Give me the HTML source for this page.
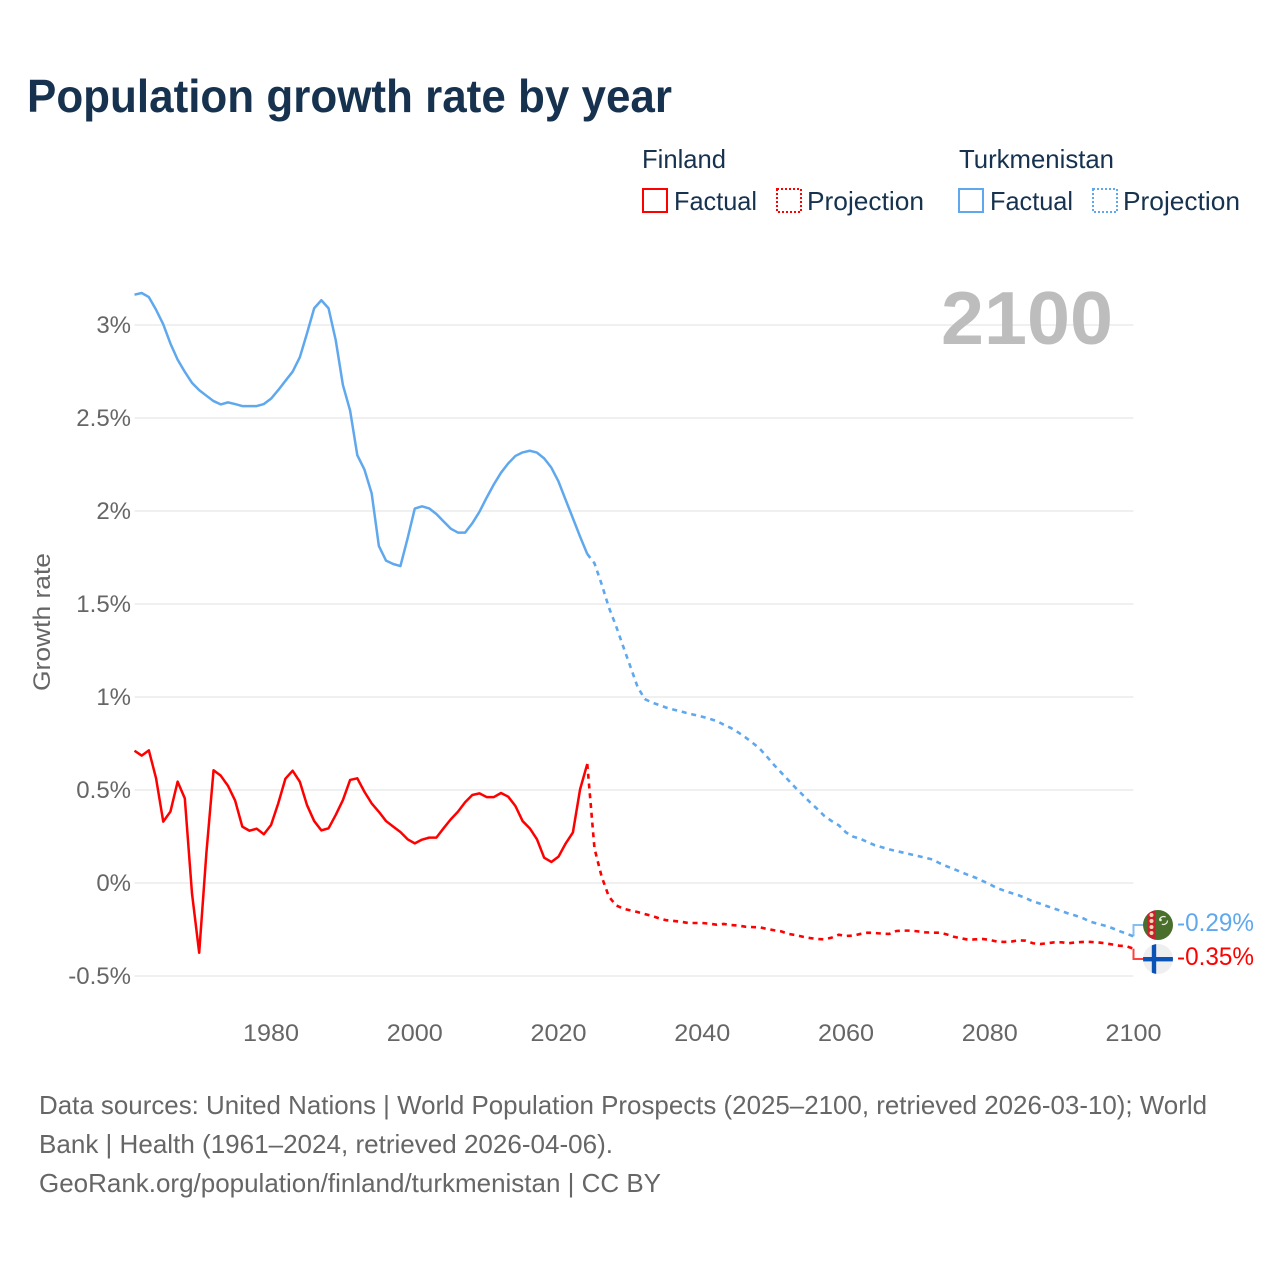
<!DOCTYPE html>
<html lang="en">
<head>
<meta charset="utf-8">
<title>Population growth rate by year</title>
<style>
html,body{margin:0;padding:0;background:#fff;}
svg{display:block;font-family:"Liberation Sans",sans-serif;}
</style>
</head>
<body>
<svg id="chart" xmlns="http://www.w3.org/2000/svg" width="1280" height="1280" viewBox="0 0 1280 1280">
  <rect width="1280" height="1280" fill="#fff"/>
  <text x="27" y="112" font-size="46" font-weight="700" fill="#16324f" textLength="645" lengthAdjust="spacingAndGlyphs">Population growth rate by year</text>

  <g font-size="26" fill="#16324f">
    <text x="642" y="168" textLength="84" lengthAdjust="spacingAndGlyphs">Finland</text>
    <text x="959" y="168" textLength="155" lengthAdjust="spacingAndGlyphs">Turkmenistan</text>
    <rect x="643" y="189" width="24" height="23" fill="none" stroke="#ff0000" stroke-width="2"/>
    <text x="674" y="210" textLength="83" lengthAdjust="spacingAndGlyphs">Factual</text>
    <rect x="777" y="189" width="24" height="23" fill="none" stroke="#ff0000" stroke-width="2" stroke-dasharray="2 2"/>
    <text x="807" y="210" textLength="117" lengthAdjust="spacingAndGlyphs">Projection</text>
    <rect x="959" y="189" width="24" height="23" fill="none" stroke="#5fa8ee" stroke-width="2"/>
    <text x="990" y="210" textLength="83" lengthAdjust="spacingAndGlyphs">Factual</text>
    <rect x="1093" y="189" width="24" height="23" fill="none" stroke="#5fa8ee" stroke-width="2" stroke-dasharray="2 2"/>
    <text x="1123" y="210" textLength="117" lengthAdjust="spacingAndGlyphs">Projection</text>
  </g>

  <g id="grid"></g>
  <g id="yticks"></g>
  <g id="xticks"></g>
  <text transform="translate(50 622) rotate(-90)" text-anchor="middle" font-size="24" fill="#666666" textLength="138" lengthAdjust="spacingAndGlyphs">Growth rate</text>
  <text id="year-label" x="1113" y="344" text-anchor="end" font-size="75" font-weight="700" fill="#bdbdbd" textLength="172" lengthAdjust="spacingAndGlyphs">2100</text>

  <g id="series"></g>

  <g>
    <clipPath id="tm-clip"><circle cx="1158" cy="925" r="15"/></clipPath>
    <g clip-path="url(#tm-clip)">
      <rect x="1143" y="910" width="30" height="30" fill="#4a6f2d"/>
      <rect x="1147.5" y="910" width="8" height="30" fill="#c8202f"/>
      <circle cx="1151.5" cy="915" r="2" fill="#f3d9b0"/>
      <circle cx="1151.5" cy="921" r="2" fill="#f3d9b0"/>
      <circle cx="1151.5" cy="927" r="2" fill="#f3d9b0"/>
      <circle cx="1151.5" cy="933" r="2" fill="#f3d9b0"/>
      <circle cx="1163.5" cy="920.5" r="4" fill="none" stroke="#e8efe0" stroke-width="1.2" stroke-dasharray="8 5"/>
      <circle cx="1160.5" cy="920" r="1.3" fill="#e8efe0"/>
    </g>
  </g>
  <g>
    <clipPath id="fi-clip"><circle cx="1158" cy="959" r="15"/></clipPath>
    <g clip-path="url(#fi-clip)">
      <rect x="1143" y="944" width="30" height="30" fill="#efefef"/>
      <rect x="1143" y="957" width="30" height="4.4" fill="#0b53b5"/>
      <rect x="1151.8" y="944" width="4.4" height="30" fill="#0b53b5"/>
    </g>
  </g>
  <g id="endlabels"></g>

  <g font-size="26" fill="#666666">
    <text x="39" y="1114" textLength="1168" lengthAdjust="spacingAndGlyphs">Data sources: United Nations | World Population Prospects (2025–2100, retrieved 2026-03-10); World</text>
    <text x="39" y="1153" textLength="574" lengthAdjust="spacingAndGlyphs">Bank | Health (1961–2024, retrieved 2026-04-06).</text>
    <text x="39" y="1192" textLength="622" lengthAdjust="spacingAndGlyphs">GeoRank.org/population/finland/turkmenistan | CC BY</text>
  </g>
</svg>
<script>
const firstFactualYear = 1961;
const firstProjectionYear = 2025;
const lastYear = 2100;
const yTicks = [3, 2.5, 2, 1.5, 1, 0.5, 0, -0.5];
const yTickLabels = ['3%', '2.5%', '2%', '1.5%', '1%', '0.5%', '0%', '-0.5%'];
const xTicks = [1980, 2000, 2020, 2040, 2060, 2080, 2100];
const endLabelFinland = '-0.35%';
const endLabelTurkmenistan = '-0.29%';

const finlandFactual = [
  0.711,0.685,0.713,0.563,0.33,0.384,0.545,0.455,-0.056,-0.375,
  0.16,0.606,0.577,0.523,0.443,0.303,0.281,0.292,0.262,0.312,
  0.428,0.561,0.604,0.545,0.419,0.333,0.283,0.294,0.366,0.446,
  0.554,0.563,0.49,0.428,0.383,0.333,0.303,0.274,0.235,0.213,
  0.233,0.244,0.244,0.294,0.342,0.383,0.434,0.473,0.482,0.462,
  0.462,0.484,0.464,0.414,0.333,0.294,0.235,0.136,0.113,0.142,
  0.213,0.272,0.504,0.64
];
const finlandProjection = [
  0.186,0.034,-0.073,-0.12,-0.138,-0.147,-0.156,-0.167,-0.177,-0.19,
  -0.2,-0.204,-0.208,-0.215,-0.215,-0.215,-0.219,-0.224,-0.22,-0.226,
  -0.229,-0.235,-0.237,-0.238,-0.247,-0.254,-0.26,-0.274,-0.28,-0.289,
  -0.296,-0.301,-0.303,-0.294,-0.278,-0.285,-0.283,-0.274,-0.267,-0.269,
  -0.272,-0.274,-0.258,-0.256,-0.256,-0.26,-0.265,-0.267,-0.267,-0.276,
  -0.289,-0.297,-0.305,-0.303,-0.301,-0.306,-0.315,-0.317,-0.315,-0.308,
  -0.31,-0.324,-0.328,-0.324,-0.319,-0.319,-0.324,-0.319,-0.317,-0.317,
  -0.319,-0.324,-0.33,-0.337,-0.34,-0.353
];
const turkmenistanFactual = [
  3.163,3.172,3.15,3.082,3.004,2.9,2.814,2.748,2.689,2.65,
  2.62,2.591,2.573,2.584,2.575,2.564,2.564,2.564,2.575,2.604,
  2.65,2.7,2.749,2.826,2.955,3.09,3.133,3.09,2.918,2.677,
  2.54,2.3,2.222,2.095,1.812,1.733,1.715,1.704,1.853,2.013,
  2.025,2.014,1.984,1.944,1.905,1.884,1.884,1.934,1.996,2.072,
  2.143,2.206,2.256,2.296,2.315,2.324,2.314,2.283,2.233,2.158,
  2.059,1.961,1.862,1.769
];
const turkmenistanProjection = [
  1.719,1.606,1.482,1.382,1.271,1.163,1.054,0.989,0.97,0.957,
  0.943,0.932,0.923,0.912,0.903,0.894,0.883,0.871,0.851,0.833,
  0.81,0.783,0.754,0.722,0.679,0.634,0.593,0.552,0.511,0.473,
  0.434,0.398,0.36,0.333,0.31,0.272,0.249,0.238,0.22,0.203,
  0.192,0.181,0.172,0.163,0.154,0.145,0.136,0.127,0.107,0.09,
  0.075,0.059,0.043,0.029,0.011,-0.007,-0.027,-0.041,-0.054,-0.066,
  -0.081,-0.099,-0.111,-0.125,-0.138,-0.151,-0.165,-0.176,-0.19,-0.208,
  -0.219,-0.229,-0.242,-0.258,-0.272,-0.287
];

const NS = 'http://www.w3.org/2000/svg';
const plotLeft = 134.5, plotRight = 1133.5, zeroY = 883, pxPerPercent = 186;
function xScale(year) {
  return plotLeft + (year - firstFactualYear) * (plotRight - plotLeft) / (lastYear - firstFactualYear);
}
function yScale(value) {
  return zeroY - value * pxPerPercent;
}
function make(tag, attrs, parent, text) {
  const el = document.createElementNS(NS, tag);
  for (const k in attrs) el.setAttribute(k, attrs[k]);
  if (text !== undefined) el.textContent = text;
  parent.appendChild(el);
  return el;
}
function linePoints(startYear, values) {
  return values.map((v, i) => xScale(startYear + i).toFixed(2) + ',' + yScale(v).toFixed(2)).join(' ');
}

const gridG = document.getElementById('grid');
const yTickG = document.getElementById('yticks');
yTicks.forEach((t, i) => {
  const line = make('line', {x1: plotLeft, x2: plotRight, y1: yScale(t), y2: yScale(t), stroke: '#ececec', 'stroke-width': 1.5}, gridG);
  
  
  const label = make('text', {x: 131, y: yScale(t) + 8, 'text-anchor': 'end', 'font-size': 24, fill: '#666666'}, yTickG, yTickLabels[i]);
  
  
});

const xTickG = document.getElementById('xticks');
xTicks.forEach(t => {
  const label = make('text', {x: xScale(t), y: 1041, 'text-anchor': 'middle', 'font-size': 24, fill: '#666666', textLength: 56, lengthAdjust: 'spacingAndGlyphs'}, xTickG, String(t));
  
  
});

const seriesG = document.getElementById('series');
const BLUE = '#5fa8ee', RED = '#ff0000';
function drawSeries(factual, projection, color, flagY, country) {
  const lastFactualIdx = factual.length - 1;
  const fLine = make('polyline', {points: linePoints(firstFactualYear, factual), fill: 'none', stroke: color, 'stroke-width': 2.5, 'stroke-linejoin': 'round'}, seriesG);
  
  
  fLine.setAttribute('data-country', country);
  const joined = [factual[lastFactualIdx]].concat(projection);
  const pLine = make('polyline', {points: linePoints(firstProjectionYear - 1, joined), fill: 'none', stroke: color, 'stroke-width': 2.6, 'stroke-dasharray': '5 4.8'}, seriesG);
  
  
  pLine.setAttribute('data-country', country);
  const endX = xScale(lastYear), endY = yScale(projection[projection.length - 1]);
  const conn = make('polyline', {points: endX + ',' + endY + ' ' + endX + ',' + flagY + ' ' + (endX + 10) + ',' + flagY, fill: 'none', stroke: color, 'stroke-width': 2, opacity: 0.75}, seriesG);
  
  
}
drawSeries(turkmenistanFactual, turkmenistanProjection, BLUE, 925, 'turkmenistan');
drawSeries(finlandFactual, finlandProjection, RED, 959, 'finland');

const endG = document.getElementById('endlabels');
const endTm = make('text', {x: 1177, y: 931, 'font-size': 25, fill: BLUE, textLength: 77, lengthAdjust: 'spacingAndGlyphs'}, endG, endLabelTurkmenistan);


const endFi = make('text', {x: 1177, y: 965, 'font-size': 25, fill: RED, textLength: 77, lengthAdjust: 'spacingAndGlyphs'}, endG, endLabelFinland);


</script>
</body>
</html>
